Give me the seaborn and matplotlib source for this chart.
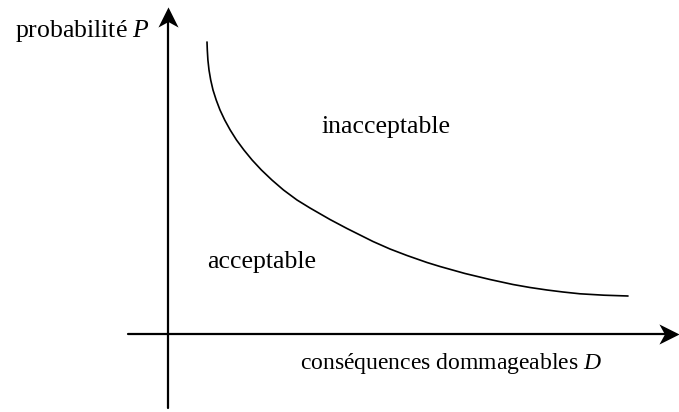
"""Schematic risk diagram: acceptability curve probability vs consequences."""

import matplotlib.pyplot as plt
import pandas as pd
import seaborn as sns
from matplotlib.path import Path

sns.set_theme(style="white")
plt.rcParams["font.family"] = ["Liberation Serif", "DejaVu Serif"]
plt.rcParams["mathtext.fontset"] = "custom"
plt.rcParams["mathtext.it"] = "Liberation Serif:italic"
plt.rcParams["mathtext.rm"] = "Liberation Serif"
plt.rcParams["text.color"] = "black"

# points (origin at the axes crossing)
consequences = [39, 39.3, 39.9, 41, 42.7, 45, 48.2, 52, 56.7, 62.2, 68.5,
                75.9, 84.1, 93.4, 103.9, 115.5, 129, 142, 162, 179, 192, 205,
                222, 239, 259, 272, 297, 322, 345, 362, 379, 395, 412, 436,
                460]
probability = [292, 284, 274, 264, 254, 244, 234, 224, 214, 204, 194, 184,
               174, 164, 154, 144, 134, 126, 114.5, 105.5, 99, 92.5, 85,
               78.5, 71.5, 67.5, 60.5, 54.5, 49.5, 46.5, 44, 42, 40.2, 38.8,
               38]

x_label = "conséquences dommageables $D$"
y_label = "probabilité $P$"
zone_high = "inacceptable"
zone_low = "acceptable"

curve = pd.DataFrame({"D": consequences, "P": probability})


def stealth(direction):
    """Notched arrow head as a marker path."""
    pts = [(0, 1), (1, -1), (0, -0.45), (-1, -1), (0, 1)]
    if direction == "right":
        pts = [(y, -x) for x, y in pts]
    codes = [Path.MOVETO] + [Path.LINETO] * 3 + [Path.CLOSEPOLY]
    return Path(pts, codes)


fig = plt.figure(figsize=(6.79, 4.12), dpi=100)
ax = fig.add_axes([0, 0, 1, 1])
ax.set_xlim(-168, 511)
ax.set_ylim(-78, 334)
ax.axis("off")

sns.lineplot(data=curve, x="D", y="P", sort=False, estimator=None,
             color="black", linewidth=1.2, ax=ax)

# axes with arrow heads
ax.plot([-40, 500], [0, 0], color="black", linewidth=1.6)
ax.plot([0, 0], [-74, 315], color="black", linewidth=1.6)
ax.plot([501], [0], marker=stealth("right"), markersize=14.5,
        color="black", markeredgewidth=0)
ax.plot([0], [317], marker=stealth("up"), markersize=14.5,
        color="black", markeredgewidth=0)

fs = 18.5
ax.text(-18, 303, y_label, ha="right", va="center", fontsize=fs)
ax.text(132, -30, x_label, ha="left", va="center", fontsize=17)
ax.text(154, 207, zone_high, ha="left", va="center", fontsize=fs)
ax.text(39, 72, zone_low, ha="left", va="center", fontsize=fs)

fig.savefig("out.png", dpi=100)
plt.close()
